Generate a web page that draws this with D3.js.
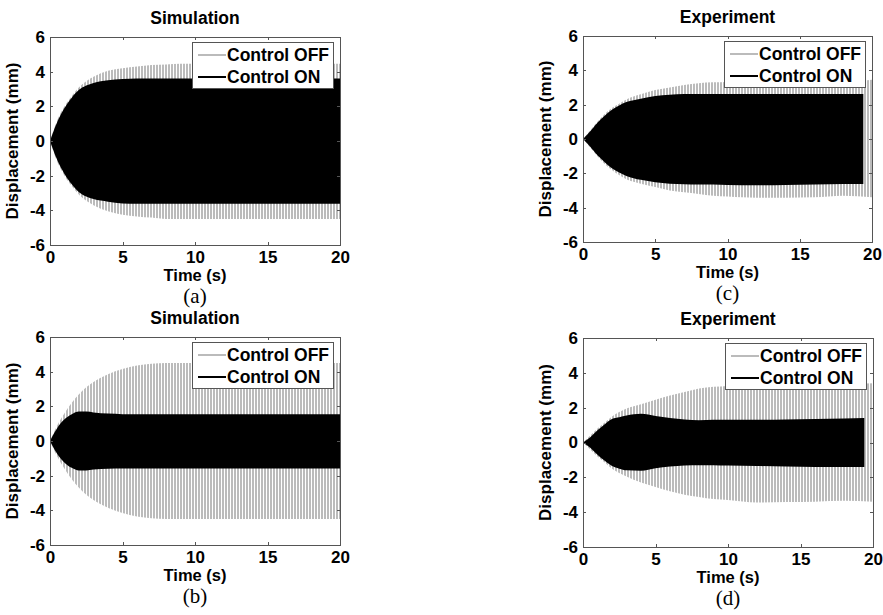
<!DOCTYPE html>
<html>
<head>
<meta charset="utf-8">
<script src="https://cdn.jsdelivr.net/npm/d3@7"></script>
<style>
  html, body { margin: 0; padding: 0; background: #fff; }
  svg { display: block; }
</style>
</head>
<body>
<svg id="chart" width="883" height="615"></svg>
<script>
// ---------- DATA (envelopes) ----------
const timeFull = [0, 0.5, 1, 1.5, 2, 2.5, 3, 4, 5, 6, 7, 8, 9, 10, 12, 14, 16, 18, 20];
const timeExpOn = [0, 0.5, 1, 1.5, 2, 2.5, 3, 4, 5, 6, 7, 8, 9, 10, 12, 14, 16, 18, 19.4];

const xTicks = [0, 5, 10, 15, 20];
const yTicks = [-6, -4, -2, 0, 2, 4, 6];
const panelTitles = ["Simulation", "Simulation", "Experiment", "Experiment"];
const panelLetters = ["(a)", "(b)", "(c)", "(d)"];
const legendLabels = ["Control OFF", "Control ON"];

// (a) Simulation
const simOffUpperA = [0, 1.2, 2.0, 2.6, 3.1, 3.45, 3.7, 4.05, 4.2, 4.3, 4.38, 4.42, 4.45, 4.45, 4.45, 4.45, 4.45, 4.45, 4.45];
const simOffLowerA = [0, -1.2, -2.0, -2.6, -3.1, -3.45, -3.7, -4.05, -4.25, -4.35, -4.42, -4.5, -4.5, -4.5, -4.5, -4.5, -4.5, -4.5, -4.5];
const simOnUpperA  = [0, 1.1, 1.9, 2.5, 2.95, 3.2, 3.35, 3.5, 3.57, 3.6, 3.6, 3.6, 3.6, 3.6, 3.6, 3.6, 3.6, 3.6, 3.6];
const simOnLowerA  = [0, -1.1, -1.9, -2.5, -2.95, -3.2, -3.35, -3.5, -3.6, -3.62, -3.62, -3.62, -3.62, -3.62, -3.62, -3.62, -3.62, -3.62, -3.62];

// (b) Simulation, stronger control
const simOffUpperB = [0, 0.9, 1.6, 2.2, 2.7, 3.1, 3.4, 3.85, 4.15, 4.35, 4.45, 4.5, 4.5, 4.5, 4.5, 4.5, 4.5, 4.5, 4.5];
const simOffLowerB = [0, -0.9, -1.6, -2.2, -2.7, -3.1, -3.4, -3.85, -4.15, -4.35, -4.45, -4.5, -4.5, -4.5, -4.5, -4.5, -4.5, -4.5, -4.5];
const simOnUpperB  = [0, 0.75, 1.25, 1.55, 1.7, 1.7, 1.65, 1.58, 1.55, 1.55, 1.55, 1.55, 1.55, 1.55, 1.55, 1.55, 1.55, 1.55, 1.55];
const simOnLowerB  = [0, -0.75, -1.25, -1.55, -1.7, -1.7, -1.65, -1.6, -1.58, -1.58, -1.58, -1.58, -1.58, -1.58, -1.58, -1.58, -1.58, -1.58, -1.58];

// (c) Experiment
const expOffUpperC = [0, 0.5, 1.0, 1.45, 1.8, 2.05, 2.3, 2.6, 2.85, 3.0, 3.15, 3.25, 3.3, 3.32, 3.4, 3.4, 3.4, 3.35, 3.45];
const expOffLowerC = [0, -0.5, -1.0, -1.45, -1.8, -2.1, -2.35, -2.6, -2.8, -3.0, -3.1, -3.2, -3.3, -3.35, -3.42, -3.42, -3.4, -3.3, -3.4];
const expOnUpperC  = [0, 0.45, 0.95, 1.35, 1.7, 1.95, 2.15, 2.35, 2.5, 2.58, 2.62, 2.62, 2.62, 2.62, 2.62, 2.62, 2.62, 2.62, 2.62];
const expOnLowerC  = [0, -0.45, -0.95, -1.35, -1.7, -1.95, -2.15, -2.38, -2.52, -2.6, -2.63, -2.65, -2.65, -2.68, -2.7, -2.68, -2.65, -2.62, -2.62];

// (d) Experiment, stronger control
const expOffUpperD = [0, 0.4, 0.8, 1.15, 1.5, 1.75, 1.95, 2.2, 2.45, 2.7, 2.9, 3.1, 3.2, 3.25, 3.4, 3.4, 3.4, 3.35, 3.4];
const expOffLowerD = [0, -0.4, -0.8, -1.15, -1.5, -1.75, -1.95, -2.3, -2.55, -2.8, -3.0, -3.13, -3.25, -3.3, -3.45, -3.42, -3.4, -3.35, -3.4];
const expOnUpperD  = [0, 0.3, 0.7, 1.05, 1.35, 1.45, 1.55, 1.65, 1.52, 1.4, 1.32, 1.28, 1.3, 1.3, 1.3, 1.32, 1.35, 1.38, 1.4];
const expOnLowerD  = [0, -0.3, -0.7, -1.05, -1.35, -1.5, -1.6, -1.62, -1.48, -1.38, -1.32, -1.3, -1.3, -1.32, -1.35, -1.38, -1.4, -1.4, -1.4];

// ---------- LAYOUT ----------
const panels = [
  { box: [50, 340, 37, 245],  title: panelTitles[0], letter: panelLetters[0],
    off: [timeFull, simOffUpperA, simOffLowerA], on: [timeFull, simOnUpperA, simOnLowerA] },
  { box: [50, 340, 337, 545], title: panelTitles[1], letter: panelLetters[1],
    off: [timeFull, simOffUpperB, simOffLowerB], on: [timeFull, simOnUpperB, simOnLowerB] },
  { box: [583, 872, 36, 242], title: panelTitles[2], letter: panelLetters[2],
    off: [timeFull, expOffUpperC, expOffLowerC], on: [timeExpOn, expOnUpperC, expOnLowerC] },
  { box: [583, 873, 338, 547], title: panelTitles[3], letter: panelLetters[3],
    off: [timeFull, expOffUpperD, expOffLowerD], on: [timeExpOn, expOnUpperD, expOnLowerD] }
];

const svg = d3.select("#chart");
const FONT = "'Liberation Sans', Arial, Helvetica, sans-serif";
const SERIF = "'Liberation Serif', 'Times New Roman', serif";
const GREY = "#bbbbbb";

const defs = svg.append("defs");
const pat = defs.append("pattern")
  .attr("id", "hatch").attr("patternUnits", "userSpaceOnUse")
  .attr("width", 3).attr("height", 20);
pat.append("rect").attr("width", 3).attr("height", 20).attr("fill", "#fff");
pat.append("rect").attr("width", 2).attr("height", 20).attr("fill", GREY);

panels.forEach((p, i) => {
  const [x0, x1, y0, y1] = p.box;
  const x = d3.scaleLinear().domain([0, 20]).range([x0, x1]);
  const y = d3.scaleLinear().domain([-6, 6]).range([y1, y0]);
  const g = svg.append("g");

  defs.append("clipPath").attr("id", "clip" + i)
    .append("rect").attr("x", x0).attr("y", y0).attr("width", x1 - x0).attr("height", y1 - y0);

  const area = d3.area()
    .x(d => x(d.t)).y0(d => y(d.lo)).y1(d => y(d.hi))
    .curve(d3.curveMonotoneX);
  const rows = s => s[0].map((t, k) => ({ t, hi: s[1][k], lo: s[2][k] }));

  const plot = g.append("g").attr("clip-path", `url(#clip${i})`);
  plot.append("path").datum(rows(p.off)).attr("d", area).attr("fill", "url(#hatch)");
  plot.append("path").datum(rows(p.on)).attr("d", area).attr("fill", "#000");

  // frame
  g.append("rect").attr("x", x0).attr("y", y0).attr("width", x1 - x0).attr("height", y1 - y0)
    .attr("fill", "none").attr("stroke", "#555").attr("stroke-width", 1)
    .attr("shape-rendering", "crispEdges");

  // axes with inward ticks on all sides
  const tk = 3;
  const styleAxis = sel => {
    sel.select(".domain").remove();
    sel.selectAll(".tick line").attr("stroke", "#555").attr("shape-rendering", "crispEdges");
  };
  const bx = g.append("g").attr("transform", `translate(0,${y1})`)
    .call(d3.axisBottom(x).tickValues(xTicks).tickSize(-tk).tickFormat(d3.format("d")))
    .call(styleAxis);
  bx.selectAll("text").attr("y", 18).attr("dy", null)
    .attr("font-family", FONT).attr("font-weight", "bold").attr("font-size", 17).attr("fill", "#000");
  g.append("g").attr("transform", `translate(0,${y0})`)
    .call(d3.axisTop(x).tickValues(xTicks).tickSize(-tk).tickFormat(""))
    .call(styleAxis);
  g.append("g").attr("transform", `translate(${x0},0)`)
    .call(d3.axisLeft(y).tickValues(yTicks).tickSize(-tk).tickPadding(5).tickFormat(d3.format("d")))
    .call(styleAxis)
    .selectAll("text").attr("font-family", FONT).attr("font-weight", "bold").attr("font-size", 17).attr("fill", "#000");
  g.append("g").attr("transform", `translate(${x1},0)`)
    .call(d3.axisRight(y).tickValues(yTicks).tickSize(-tk).tickFormat(""))
    .call(styleAxis);
  g.selectAll(".tick text").text(function () { return this.textContent.replace("\u2212", "-"); });

  // labels
  const cx = (x0 + x1) / 2;
  g.append("text").attr("x", cx).attr("y", y0 - 13).attr("text-anchor", "middle")
    .attr("font-family", FONT).attr("font-weight", "bold").attr("font-size", 17.5).text(p.title);
  g.append("text").attr("x", cx).attr("y", y1 + 36).attr("text-anchor", "middle")
    .attr("font-family", FONT).attr("font-weight", "bold").attr("font-size", 16.5).text("Time (s)");
  g.append("text").attr("transform", `translate(${x0 - 32},${(y0 + y1) / 2}) rotate(-90)`)
    .attr("text-anchor", "middle")
    .attr("font-family", FONT).attr("font-weight", "bold").attr("font-size", 17).text("Displacement (mm)");
  g.append("text").attr("x", cx).attr("y", y1 + 58).attr("text-anchor", "middle")
    .attr("font-family", SERIF).attr("font-size", 21).text(p.letter);

  // legend
  const lx = x1 - 148, ly = y0 + 5;
  g.append("rect").attr("x", lx).attr("y", ly).attr("width", 141).attr("height", 46)
    .attr("fill", "#fff").attr("stroke", "#555").attr("stroke-width", 1).attr("shape-rendering", "crispEdges");
  legendLabels.forEach((lab, k) => {
    const yy = ly + 13 + k * 22;
    g.append("line").attr("x1", lx + 6).attr("x2", lx + 34).attr("y1", yy).attr("y2", yy)
      .attr("stroke", k === 0 ? GREY : "#000").attr("stroke-width", 2);
    g.append("text").attr("x", lx + 35).attr("y", yy + 6)
      .attr("font-family", FONT).attr("font-weight", "bold").attr("font-size", 17.5).text(lab);
  });
});
</script>
</body>
</html>
